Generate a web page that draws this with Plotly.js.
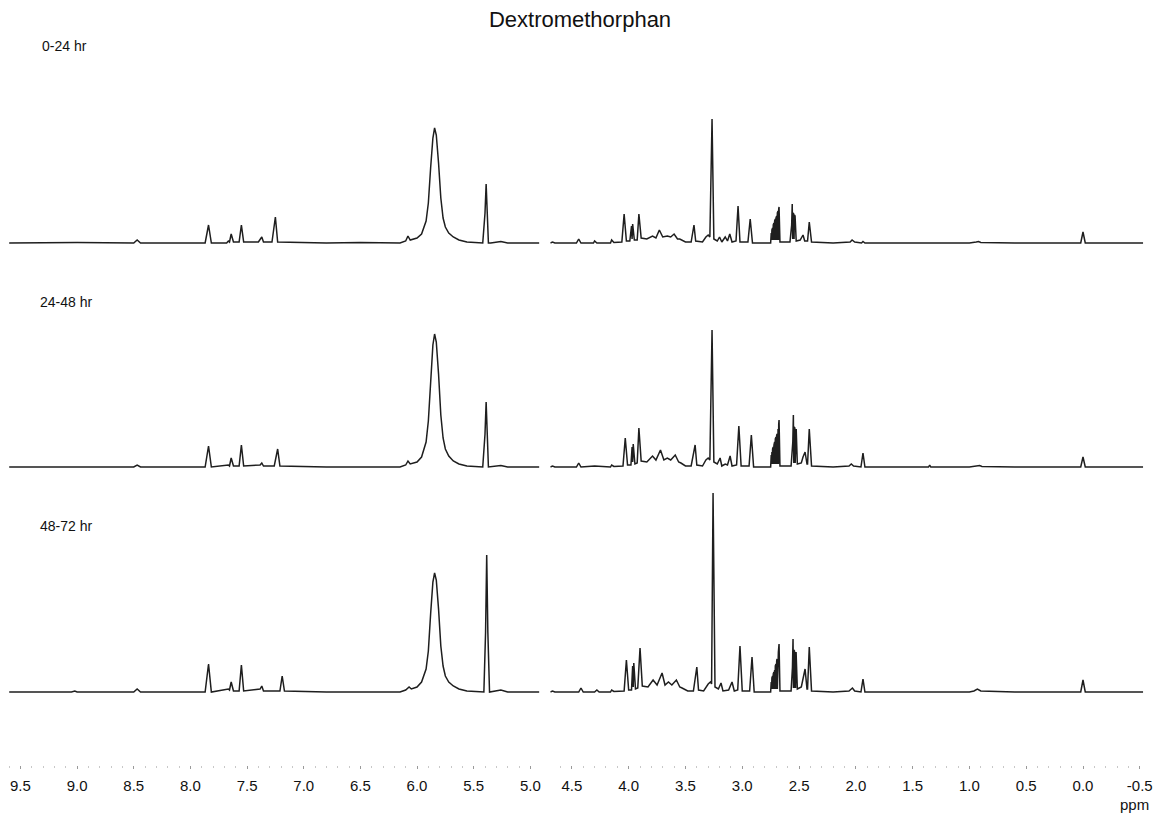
<!DOCTYPE html>
<html>
<head>
<meta charset="utf-8">
<script src="https://cdn.plot.ly/plotly-3.0.1.min.js"></script>
<style>html,body{margin:0;padding:0;background:#fff;}#chart{width:1161px;height:817px;}</style>
</head>
<body>
<div id="chart"></div>
<script>
// ---- data: [ppm, intensity] points ----
const rowLabels = ["0-24 hr", "24-48 hr", "48-72 hr"];
const leftTicks = [9.5, 9.0, 8.5, 8.0, 7.5, 7.0, 6.5, 6.0, 5.5, 5.0];
const rightTicks = [4.5, 4.0, 3.5, 3.0, 2.5, 2.0, 1.5, 1.0, 0.5, 0.0, -0.5];

const r1Left = [[9.60,0],[9.00,0.5],[8.50,0],[8.47,3],[8.44,0],[7.87,0],[7.84,18],[7.815,0],[7.68,0],[7.665,2],[7.655,1],[7.64,9],[7.62,1],[7.57,1],[7.55,18],[7.53,1],[7.40,1],[7.385,4],[7.37,6],[7.355,1],[7.28,1],[7.25,26],[7.23,1],[6.80,0],[6.50,0.5],[6.15,0],[6.10,2],[6.08,7],[6.06,3],[6.00,5],[5.96,9],[5.92,22],[5.90,40],[5.88,75],[5.86,105],[5.845,115],[5.83,108],[5.81,80],[5.79,45],[5.77,25],[5.75,16],[5.72,10],[5.68,6],[5.63,3],[5.56,1],[5.42,0],[5.40,30],[5.39,59],[5.38,30],[5.37,0],[5.35,0],[5.26,1.5],[5.20,0],[4.92,0]];
const r1Right = [[4.69,0],[4.67,1],[4.65,0],[4.46,0],[4.44,4],[4.42,0],[4.31,0],[4.30,2],[4.28,0],[4.16,0],[4.15,3],[4.13,0.5],[4.06,1],[4.04,29],[4.02,2],[3.99,2],[3.975,17],[3.97,4],[3.965,19],[3.95,3],[3.925,3],[3.91,29],[3.89,5],[3.84,4],[3.79,7],[3.76,5],[3.73,13],[3.70,6],[3.66,7],[3.63,6],[3.60,9],[3.57,4],[3.55,4],[3.50,1],[3.45,1],[3.435,10],[3.425,18],[3.41,2],[3.35,1],[3.32,6],[3.30,8],[3.285,6],[3.266,124],[3.25,4],[3.22,2],[3.20,6],[3.18,1],[3.15,6],[3.13,2],[3.11,9],[3.09,1],[3.055,2],[3.037,37],[3.02,1],[2.95,1],[2.93,24],[2.91,0],[2.77,0],[2.75,0],[2.745,10],[2.742,3],[2.739,13],[2.736,3],[2.733,15],[2.730,3],[2.727,18],[2.724,3],[2.721,20],[2.718,3],[2.715,22],[2.712,3],[2.709,24],[2.706,3],[2.703,25],[2.700,3],[2.697,27],[2.694,3],[2.691,30],[2.688,3],[2.685,32],[2.682,3],[2.679,34],[2.676,36],[2.668,1],[2.65,1],[2.58,1],[2.565,18],[2.56,39],[2.556,4],[2.553,30],[2.550,4],[2.547,29],[2.544,4],[2.541,28],[2.538,4],[2.535,27],[2.525,2],[2.49,3],[2.475,6],[2.465,8],[2.45,2],[2.425,2],[2.41,21],[2.39,1],[2.20,0],[2.05,1],[2.033,3],[2.01,1],[1.95,0],[1.937,1.5],[1.92,0],[1.50,0],[1.35,0.5],[1.00,0],[0.94,1],[0.92,1.5],[0.90,0.5],[0.60,0],[0.02,0],[0.00,11],[-0.02,0],[-0.53,0]];

const r2Left = [[9.60,0],[8.50,0],[8.47,2],[8.44,0],[7.87,0],[7.84,21],[7.815,0],[7.665,2],[7.655,1],[7.64,9],[7.62,1],[7.57,1],[7.55,22],[7.53,1],[7.385,2],[7.37,4],[7.355,1],[7.26,1],[7.23,18],[7.21,1],[6.80,0],[6.15,0],[6.10,2],[6.08,6],[6.06,3],[6.00,5],[5.96,10],[5.92,25],[5.90,46],[5.88,87],[5.86,122],[5.845,133],[5.83,125],[5.81,93],[5.79,52],[5.77,29],[5.75,18],[5.72,11],[5.68,6],[5.63,3],[5.56,1],[5.42,0],[5.40,33],[5.39,65],[5.38,33],[5.37,0],[5.26,1.5],[5.20,0],[4.92,0]];
const r2Right = [[4.69,0],[4.67,1],[4.65,0],[4.46,0],[4.44,4],[4.42,0],[4.30,1],[4.16,0],[4.15,2],[4.13,0.5],[4.05,1],[4.03,29],[4.01,2],[3.98,2],[3.97,20],[3.965,5],[3.96,23],[3.945,3],[3.925,4],[3.91,39],[3.89,6],[3.84,5],[3.79,11],[3.76,7],[3.72,17],[3.69,7],[3.66,9],[3.63,7],[3.59,12],[3.56,5],[3.54,4],[3.50,1],[3.45,1],[3.43,12],[3.415,22],[3.40,2],[3.35,1],[3.32,7],[3.30,9],[3.285,7],[3.266,137],[3.25,5],[3.22,3],[3.195,9],[3.18,1],[3.15,3],[3.13,2],[3.107,11],[3.09,1],[3.05,2],[3.03,41],[3.01,1],[2.94,1],[2.92,32],[2.90,0],[2.77,0],[2.75,0],[2.745,12],[2.742,3],[2.739,15],[2.736,3],[2.733,18],[2.730,3],[2.727,20],[2.724,3],[2.721,22],[2.718,3],[2.715,25],[2.712,3],[2.709,28],[2.706,3],[2.703,30],[2.700,3],[2.697,32],[2.694,3],[2.691,33],[2.688,3],[2.685,38],[2.682,3],[2.679,43],[2.676,47],[2.668,1],[2.65,1],[2.57,1],[2.555,25],[2.55,52],[2.546,4],[2.543,40],[2.540,4],[2.537,39],[2.534,4],[2.531,38],[2.528,4],[2.525,38],[2.515,3],[2.48,4],[2.465,10],[2.447,15],[2.43,3],[2.425,3],[2.41,38],[2.39,1],[2.20,0],[2.06,1],[2.04,3],[2.02,1],[1.955,0],[1.937,14],[1.92,0],[1.50,0],[1.36,0],[1.35,2],[1.34,0],[1.00,0],[0.93,1],[0.91,1.5],[0.89,0.5],[0.60,0],[0.02,0],[0.00,10],[-0.02,0],[-0.53,0]];

const r3Left = [[9.60,0],[9.05,0],[9.02,1],[9.00,0],[8.50,0],[8.47,3],[8.44,0],[7.87,0],[7.84,28],[7.815,0],[7.665,3],[7.655,2],[7.64,10],[7.62,1],[7.57,1],[7.55,27],[7.53,1],[7.385,3],[7.37,6],[7.355,1],[7.21,1],[7.19,16],[7.17,1],[6.80,0],[6.15,0],[6.10,2],[6.07,5],[6.05,3],[6.00,5],[5.96,10],[5.92,23],[5.90,41],[5.88,78],[5.86,110],[5.845,119],[5.83,112],[5.81,83],[5.79,46],[5.77,26],[5.75,16],[5.72,10],[5.68,6],[5.63,3],[5.56,1],[5.41,0],[5.395,60],[5.385,137],[5.375,60],[5.36,0],[5.26,2],[5.20,0],[4.92,0]];
const r3Right = [[4.69,0],[4.67,1],[4.65,0],[4.44,0],[4.42,4],[4.40,0],[4.30,0],[4.28,2],[4.26,0],[4.16,0],[4.15,2],[4.13,0.5],[4.04,1],[4.02,32],[4.00,2],[3.975,2],[3.965,26],[3.96,5],[3.955,29],[3.94,3],[3.92,4],[3.90,44],[3.88,6],[3.83,5],[3.785,12],[3.75,7],[3.706,19],[3.68,7],[3.65,10],[3.62,7],[3.58,12],[3.55,5],[3.53,4],[3.48,1],[3.43,1],[3.415,14],[3.40,25],[3.385,2],[3.34,1],[3.30,8],[3.28,10],[3.27,8],[3.257,199],[3.24,5],[3.21,3],[3.187,9],[3.17,1],[3.12,2],[3.09,10],[3.07,1],[3.04,2],[3.02,46],[3.00,1],[2.935,1],[2.914,35],[2.895,0],[2.76,0],[2.75,0],[2.745,10],[2.742,3],[2.739,14],[2.736,3],[2.733,16],[2.730,3],[2.727,18],[2.724,3],[2.721,20],[2.718,3],[2.715,22],[2.712,3],[2.709,26],[2.706,3],[2.703,28],[2.700,3],[2.697,31],[2.694,33],[2.691,3],[2.688,30],[2.685,3],[2.682,40],[2.679,44],[2.676,48],[2.668,1],[2.65,1],[2.57,1],[2.558,25],[2.553,53],[2.549,4],[2.546,42],[2.543,4],[2.540,41],[2.537,4],[2.534,40],[2.531,4],[2.526,40],[2.515,3],[2.48,5],[2.465,12],[2.447,23],[2.43,3],[2.425,3],[2.41,45],[2.39,1],[2.20,0],[2.06,1],[2.03,4],[2.01,1],[1.955,0],[1.937,13],[1.92,0],[1.50,0],[1.00,0],[0.96,1],[0.93,3],[0.90,1],[0.60,0],[0.02,0],[0.00,12],[-0.02,0],[-0.53,0]];

// ---- geometry ----
const W = 1161, H = 817;
const fx = p => p / W;
const fy = p => 1 - p / H;

const lineStyle = {color: '#1e1e1e', width: 1.5};
function trace(points, xa, ya) {
  return {
    type: 'scatter', mode: 'lines', xaxis: xa, yaxis: ya,
    x: points.map(p => p[0]), y: points.map(p => p[1]),
    line: lineStyle, hoverinfo: 'skip', showlegend: false
  };
}

const data = [
  trace(r1Left, 'x', 'y'), trace(r1Right, 'x2', 'y'),
  trace(r2Left, 'x', 'y2'), trace(r2Right, 'x2', 'y2'),
  trace(r3Left, 'x', 'y3'), trace(r3Right, 'x2', 'y3')
];

const fontFam = 'Liberation Sans, Arial, Helvetica, sans-serif';
const xCommon = {
  anchor: 'free', position: fy(765), showgrid: false, zeroline: false, showline: false,
  ticks: 'outside', ticklen: 3, tickwidth: 1, tickcolor: '#9a9a9a',
  minor: {ticks: 'outside', ticklen: 2, tickcolor: '#c8c8c8', dtick: 0.1},
  tickfont: {family: fontFam, size: 15, color: '#111'},
  ticklabelstandoff: 4, fixedrange: true
};
const fmt = v => v.toFixed(1);
const yCommon = {visible: false, range: [-15, 209], fixedrange: true};

const layout = {
  width: W, height: H,
  margin: {l: 0, r: 0, t: 0, b: 0},
  paper_bgcolor: '#fff', plot_bgcolor: '#fff',
  title: {text: 'Dextromethorphan', x: fx(580), xanchor: 'center', y: fy(19), yanchor: 'middle',
          font: {family: fontFam, size: 22, color: '#111'}},
  xaxis: Object.assign({}, xCommon, {domain: [fx(9.1), fx(539.4)], range: [9.6, 4.92],
          tickvals: leftTicks, ticktext: leftTicks.map(fmt)}),
  xaxis2: Object.assign({}, xCommon, {domain: [fx(550.3), fx(1143.2)], range: [4.69, -0.53],
          tickvals: rightTicks, ticktext: rightTicks.map(fmt)}),
  yaxis: Object.assign({}, yCommon, {domain: [fy(258), fy(34)]}),
  yaxis2: Object.assign({}, yCommon, {domain: [fy(482), fy(258)]}),
  yaxis3: Object.assign({}, yCommon, {domain: [fy(707), fy(483)]}),
  annotations: [
    {text: rowLabels[0], xref: 'paper', yref: 'paper', x: fx(40), y: fy(46), xanchor: 'left', yanchor: 'middle', showarrow: false, font: {family: fontFam, size: 14, color: '#111'}},
    {text: rowLabels[1], xref: 'paper', yref: 'paper', x: fx(38), y: fy(302), xanchor: 'left', yanchor: 'middle', showarrow: false, font: {family: fontFam, size: 14, color: '#111'}},
    {text: rowLabels[2], xref: 'paper', yref: 'paper', x: fx(38), y: fy(526), xanchor: 'left', yanchor: 'middle', showarrow: false, font: {family: fontFam, size: 14, color: '#111'}},
    {text: 'ppm', xref: 'paper', yref: 'paper', x: fx(1134), y: fy(804), xanchor: 'center', yanchor: 'middle', showarrow: false, font: {family: fontFam, size: 15, color: '#111'}}
  ]
};

Plotly.newPlot('chart', data, layout, {staticPlot: true, displayModeBar: false});
</script>
</body>
</html>
